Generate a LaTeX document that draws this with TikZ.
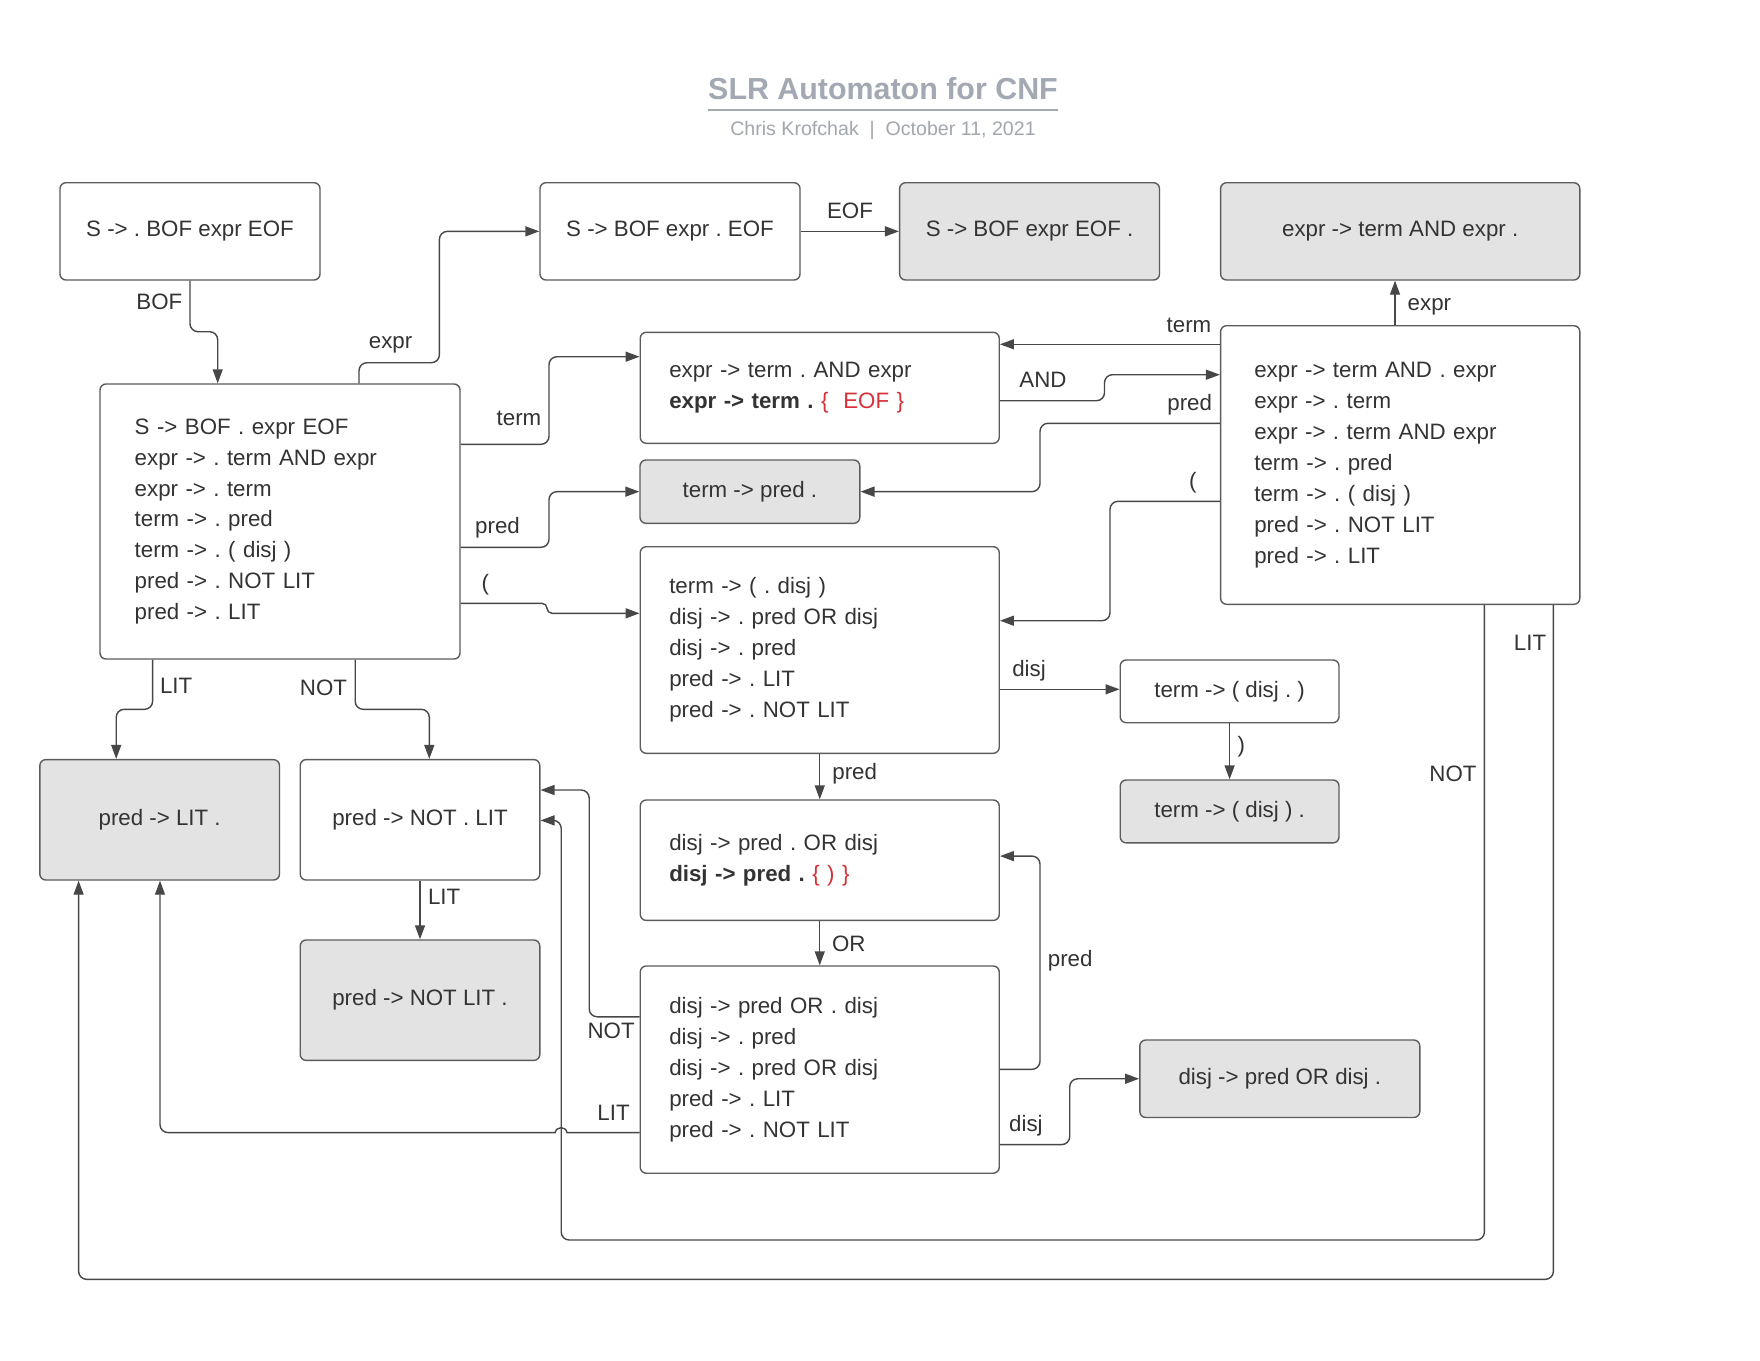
\documentclass[tikz,border=0pt]{standalone}
\usepackage{fontspec}
\setmainfont{Liberation Sans}
\usetikzlibrary{arrows.meta}
\frenchspacing
\definecolor{txt}{HTML}{333333}
\definecolor{ln}{HTML}{474747}
\definecolor{bd}{HTML}{5C5C5C}
\definecolor{fl}{HTML}{E3E3E3}
\definecolor{rd}{HTML}{D93038}
\definecolor{ttl}{HTML}{A3A9B3}
\definecolor{subc}{HTML}{A2A6AD}
\begin{document}
\begin{tikzpicture}[x=0.5pt,y=-0.5pt,
  every node/.style={font=\fontsize{11.15pt}{15.45pt}\selectfont\frenchspacing, text=txt},
  st/.style={draw=bd, line width=0.7pt, rounded corners=3pt, fill=white, inner sep=0pt, align=center},
  fin/.style={st, fill=fl},
  ml/.style={st, align=left, inner xsep=#1, inner ysep=0pt},
  lab/.style={inner sep=0pt},
  conn/.style={draw=ln, line width=0.7pt, rounded corners=4pt, -{Triangle[length=7pt,width=5pt]}},
]
\fill[white] (0,0) rectangle (1760,1360);
\useasboundingbox (0,0) rectangle (1760,1360);

% title
\node[lab, anchor=base, font=\fontsize{15.2pt}{17pt}\selectfont\bfseries, text=ttl] (title) at (883,99.3) {SLR Automaton for CNF};
\coordinate (ul) at (0,109.7);
\draw[ttl, line width=1pt] (title.west |- ul) -- (title.east |- ul);
\node[lab, anchor=base, font=\fontsize{9.8pt}{12pt}\selectfont, text=subc] (sub) at (883,135) {Chris Krofchak\ \ |\ \ October 11, 2021};

% states
\node[st, minimum width=130pt, minimum height=48.65pt] (A) at (190,231.35) {S -> . BOF expr EOF};
\node[st, minimum width=130pt, minimum height=48.65pt] (B) at (670,231.35) {S -> BOF expr . EOF};
\node[fin, minimum width=129.95pt, minimum height=48.65pt] (E) at (1029.55,231.35) {S -> BOF expr EOF .};
\node[fin, minimum width=179.6pt, minimum height=48.65pt] (F) at (1400.2,231.35) {expr -> term AND expr .};

\node[ml=17.35pt, text width=145.3pt, minimum height=137.5pt] (C) at (280,521.5)
  {S -> BOF . expr EOF\\expr -> . term AND expr\\expr -> . term\\term -> . pred\\term -> . ( disj )\\pred -> . NOT LIT\\pred -> . LIT};
\node[ml=14.5pt, text width=150.5pt, minimum height=55.5pt] (D) at (819.75,387.8)
  {expr -> term . AND expr\\{\bfseries expr -> term .} {\color{rd}\{\ \ EOF \}}};
\node[ml=16.85pt, text width=145.9pt, minimum height=139.3pt] (G) at (1400.2,465)
  {expr -> term AND . expr\\expr -> . term\\expr -> . term AND expr\\term -> . pred\\term -> . ( disj )\\pred -> . NOT LIT\\pred -> . LIT};
\node[fin, minimum width=109.9pt, minimum height=31.65pt] (H) at (749.9,491.65) {term -> pred .};
\node[ml=14.5pt, text width=150.5pt, minimum height=103.3pt] (I) at (819.75,650)
  {term -> ( . disj )\\disj -> . pred OR disj\\disj -> . pred\\pred -> . LIT\\pred -> . NOT LIT};
\node[st, minimum width=109.4pt, minimum height=31.35pt] (J) at (1229.6,691.35) {term -> ( disj . )};
\node[fin, minimum width=109.4pt, minimum height=31.45pt] (K) at (1229.6,811.45) {term -> ( disj ) .};
\node[fin, minimum width=119.85pt, minimum height=60.2pt] (L) at (159.65,819.8) {pred -> LIT .};
\node[st, minimum width=119.8pt, minimum height=60.2pt] (M) at (420,819.8) {pred -> NOT . LIT};
\node[fin, minimum width=119.8pt, minimum height=60.2pt] (N) at (420,1000.2) {pred -> NOT LIT .};
\node[ml=14.5pt, text width=150.5pt, minimum height=60.2pt] (O) at (819.75,860.2)
  {disj -> pred . OR disj\\{\bfseries disj -> pred .} {\color{rd}\{ ) \}}};
\node[ml=14.5pt, text width=150.5pt, minimum height=103.6pt] (P) at (819.75,1069.6)
  {disj -> pred OR . disj\\disj -> . pred\\disj -> . pred OR disj\\pred -> . LIT\\pred -> . NOT LIT};
\node[fin, minimum width=140pt, minimum height=38.75pt] (Q) at (1279.8,1078.75) {disj -> pred OR disj .};

% connectors
\draw[conn] (A.south) -- (190,331.7) -- (217.7,331.7) -- (C.north -| 217.7,0);
\draw[conn] (C.north -| 359,0) -- (359,362.7) -- (439.4,362.7) -- (439.4,231.35) -- (B.west);
\draw[conn] (B.east) -- (E.west);
\draw[conn] (C.east |- 0,444.3) -- (549,444.3) -- (549,356.7) -- (D.west |- 0,356.7);
\draw[conn] (C.east |- 0,547.3) -- (549,547.3) -- (549,491.65) -- (H.west);
\draw[conn, rounded corners=2.5pt] (C.east |- 0,603.3) -- (547,603.3) -- (547,613.3) -- (I.west |- 0,613.3);
\draw[conn] (C.south -| 152.6,0) -- (152.6,709.3) -- (116.2,709.3) -- (L.north -| 116.2,0);
\draw[conn] (C.south -| 355.2,0) -- (355.2,709.3) -- (429.3,709.3) -- (M.north -| 429.3,0);

\draw[conn] (G.west |- 0,344.3) -- (D.east |- 0,344.3);
\draw[conn] (D.east |- 0,400.7) -- (1104.5,400.7) -- (1104.5,374.7) -- (G.west |- 0,374.7);
\draw[conn] (G.west |- 0,423.3) -- (1040,423.3) -- (1040,491.65) -- (H.east);
\draw[conn] (G.west |- 0,501.3) -- (1110,501.3) -- (1110,620.7) -- (I.east |- 0,620.7);
\draw[conn] (G.north -| 1395,0) -- (F.south -| 1395,0);
\draw[conn] (I.east |- 0,689.3) -- (J.west |- 0,689.3);
\draw[conn] (J.south) -- (K.north);
\draw[conn] (G.south -| 1553.4,0) -- (1553.4,1279.3) -- (78.6,1279.3) -- (L.south -| 78.6,0);
\draw[conn] (G.south -| 1484.4,0) -- (1484.4,1240) -- (561.2,1240) -- (561.2,820.4) -- (M.east |- 0,820.4);
\draw[conn] (I.south) -- (O.north);
\draw[conn] (O.south) -- (P.north);
\draw[conn] (M.south) -- (N.north);
\draw[conn] (P.west |- 0,1016.8) -- (589.2,1016.8) -- (589.2,790) -- (M.east |- 0,790);
\draw[conn] (P.west |- 0,1132.6) [sharp corners] -- (567,1132.6) .. controls (566,1126) and (556.2,1126) .. (555.2,1132.6) -- (175,1132.6) [rounded corners=4pt] -- (160,1132.6) -- (L.south -| 160,0);
\draw[conn] (P.east |- 0,1069.3) -- (1040,1069.3) -- (1040,856.1) -- (O.east |- 0,856.1);
\draw[conn] (P.east |- 0,1144.6) -- (1069.7,1144.6) -- (1069.7,1078.75) -- (Q.west);

% labels
\node[lab] (lBOF) at (159.4,302.2) {BOF};
\node[lab] (lexpr1) at (390.6,345) {expr};
\node[lab] (lterm1) at (519,418.7) {term};
\node[lab] (lEOF) at (850,211.3) {EOF};
\node[lab] (lexpr2) at (1429.4,306.7) {expr};
\node[lab] (lterm2) at (1189,325) {term};
\node[lab] (lAND) at (1043,380) {AND};
\node[lab] (lpred1) at (1189.7,404.7) {pred};
\node[lab] (lpar1) at (1192.8,482.7) {(};
\node[lab] (lpred2) at (497.5,528) {pred};
\node[lab] (lpar2) at (485.4,585) {(};
\node[lab] (lLIT1) at (176.2,685.7) {LIT};
\node[lab] (lNOT1) at (323.5,688.3) {NOT};
\node[lab] (ldisj1) at (1029,670.8) {disj};
\node[lab] (lpar3) at (1241.4,746.7) {)};
\node[lab] (lLIT2) at (1530,643.3) {LIT};
\node[lab] (lNOT2) at (1453,773.8) {NOT};
\node[lab] (lpred3) at (854.7,773.4) {pred};
\node[lab] (lOR) at (848.8,943.6) {OR};
\node[lab] (lLIT3) at (444.2,896.6) {LIT};
\node[lab] (lNOT3) at (611.1,1031) {NOT};
\node[lab] (lLIT4) at (613.6,1112.5) {LIT};
\node[lab] (lpred4) at (1070.2,960.5) {pred};
\node[lab] (ldisj2) at (1025.9,1125.7) {disj};
\end{tikzpicture}
\end{document}
